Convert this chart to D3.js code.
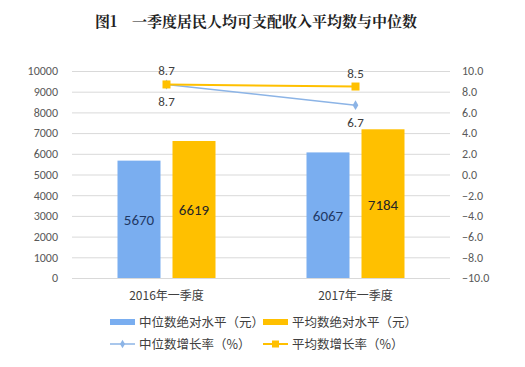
<!DOCTYPE html>
<html><head><meta charset="utf-8">
<script src="https://cdn.jsdelivr.net/npm/d3@7"></script>
<style>body{margin:0;background:#fff}svg{display:block}</style>
</head><body>
<script>
const title = "图1　一季度居民人均可支配收入平均数与中位数";
const categories = ["2016年一季度", "2017年一季度"];
const medianLevel = [5670, 6067];
const meanLevel = [6619, 7184];
const medianRate = [8.7, 6.7];
const meanRate = [8.7, 8.5];
const leftTicks = [0,1000,2000,3000,4000,5000,6000,7000,8000,9000,10000];
const rightTicks = [-10,-8,-6,-4,-2,0,2,4,6,8,10];
const seriesNames = ["中位数绝对水平（元）","平均数绝对水平（元）","中位数增长率（%）","平均数增长率（%）"];

const W=525,H=367;
const svg=d3.select("body").append("svg").attr("width",W).attr("height",H);
const font="'Noto Sans CJK SC','Microsoft YaHei',sans-serif";
const cBlue="#7aaef0", cYellow="#ffc000", cLine="#8cb4e6";
const x0=72,x1=450,yTop=71,yBot=278;
const x=d3.scaleBand().domain(categories).range([x0,x1]);
const yL=d3.scaleLinear().domain([0,10000]).range([yBot,yTop]);
const yR=d3.scaleLinear().domain([-10,10]).range([yBot,yTop]);

svg.append("text").attr("x",256).attr("y",27).attr("text-anchor","middle")
 .attr("font-family","'Noto Serif CJK SC','Noto Sans CJK SC',serif").attr("font-weight","bold")
 .attr("font-size",15).attr("fill","#222").text(title);

// gridlines
svg.append("g").selectAll("line").data(leftTicks).join("line")
 .attr("x1",x0).attr("x2",x1).attr("y1",d=>yL(d)+0.5).attr("y2",d=>yL(d)+0.5)
 .attr("stroke","#d9d9d9").attr("stroke-width",1);

const axL=svg.append("g").attr("transform",`translate(${x0},0)`)
 .call(d3.axisLeft(yL).tickValues(leftTicks).tickSize(0).tickPadding(14).tickFormat(d3.format("d")));
axL.select(".domain").remove();
axL.selectAll("text").attr("font-family","Calibri,'Carlito','Liberation Sans',sans-serif").attr("font-size",12).attr("fill","#595959");

const axR=svg.append("g").attr("transform",`translate(${x1},0)`)
 .call(d3.axisRight(yR).tickValues(rightTicks).tickSize(0).tickPadding(12).tickFormat(d3.format(".1f")));
axR.select(".domain").remove();
axR.selectAll("text").attr("font-family","Calibri,'Carlito','Liberation Sans',sans-serif").attr("font-size",12).attr("fill","#595959");

const bw=43, gap=12;
const cx=c=>x(c)+x.bandwidth()/2;
const bars=[{vals:medianLevel,color:cBlue,off:-gap/2-bw,tc:"#1f3864"},{vals:meanLevel,color:cYellow,off:gap/2,tc:"#262626"}];
bars.forEach(s=>{
  svg.append("g").selectAll("rect").data(categories).join("rect")
   .attr("x",(c)=>cx(c)+s.off).attr("width",bw)
   .attr("y",(c,i)=>yL(s.vals[i])).attr("height",(c,i)=>yBot-yL(s.vals[i]))
   .attr("fill",s.color);
  svg.append("g").selectAll("text").data(categories).join("text")
   .attr("x",c=>cx(c)+s.off+bw/2).attr("y",(c,i)=>(yL(s.vals[i])+yBot)/2+6)
   .attr("text-anchor","middle").attr("font-family","Calibri,'Carlito','Liberation Sans',sans-serif")
   .attr("font-size",15).attr("fill",s.tc).text((c,i)=>s.vals[i]);
});

// lines
const lineM=d3.line().x((d,i)=>cx(categories[i])).y(d=>yR(d));
svg.append("path").datum(medianRate).attr("d",lineM).attr("fill","none").attr("stroke",cLine).attr("stroke-width",1.5);
svg.append("path").datum(meanRate).attr("d",lineM).attr("fill","none").attr("stroke",cYellow).attr("stroke-width",2);
svg.append("g").selectAll("path").data(medianRate).join("path")
 .attr("d",d3.symbol(d3.symbolDiamond,28)).attr("transform",(d,i)=>`translate(${cx(categories[i])},${yR(d)})`).attr("fill",cLine);
svg.append("g").selectAll("rect").data(meanRate).join("rect")
 .attr("x",(d,i)=>cx(categories[i])-4).attr("y",d=>yR(d)-4).attr("width",8).attr("height",8).attr("fill",cYellow);
const lf="Calibri,'Carlito','Liberation Sans',sans-serif";
svg.append("g").selectAll("text").data(meanRate).join("text")
 .attr("x",(d,i)=>cx(categories[i])).attr("y",d=>yR(d)-9).attr("text-anchor","middle")
 .attr("font-family",lf).attr("font-size",13).attr("fill","#404040").text(d=>d.toFixed(1));
svg.append("g").selectAll("text").data(medianRate).join("text")
 .attr("x",(d,i)=>cx(categories[i])).attr("y",d=>yR(d)+22).attr("text-anchor","middle")
 .attr("font-family",lf).attr("font-size",13).attr("fill","#404040").text(d=>d.toFixed(1));

// category labels
svg.append("g").selectAll("text").data(categories).join("text")
 .attr("x",c=>cx(c)).attr("y",300).attr("text-anchor","middle")
 .attr("font-family",font).attr("font-size",12).attr("fill","#404040").text(c=>c);

// legend
const leg=[{t:"bar",c:cBlue,x:110,y:322},{t:"bar",c:cYellow,x:263,y:322},{t:"lineD",c:cLine,x:110,y:344},{t:"lineS",c:cYellow,x:263,y:344}];
leg.forEach((l,i)=>{
  const g=svg.append("g");
  if(l.t==="bar"){g.append("rect").attr("x",l.x).attr("y",l.y-3).attr("width",25).attr("height",6).attr("fill",l.c);}
  else{
    g.append("line").attr("x1",l.x).attr("x2",l.x+25).attr("y1",l.y).attr("y2",l.y).attr("stroke",l.c).attr("stroke-width",l.t==="lineS"?2:1.5);
    if(l.t==="lineD") g.append("path").attr("d",d3.symbol(d3.symbolDiamond,22)).attr("transform",`translate(${l.x+12.5},${l.y})`).attr("fill",l.c);
    else g.append("rect").attr("x",l.x+9).attr("y",l.y-3.5).attr("width",7).attr("height",7).attr("fill",l.c);
  }
  g.append("text").attr("x",l.x+29).attr("y",l.y+4.5).attr("font-family",font).attr("font-size",12.5).attr("fill","#404040").text(seriesNames[i]);
});
</script>
</body></html>
